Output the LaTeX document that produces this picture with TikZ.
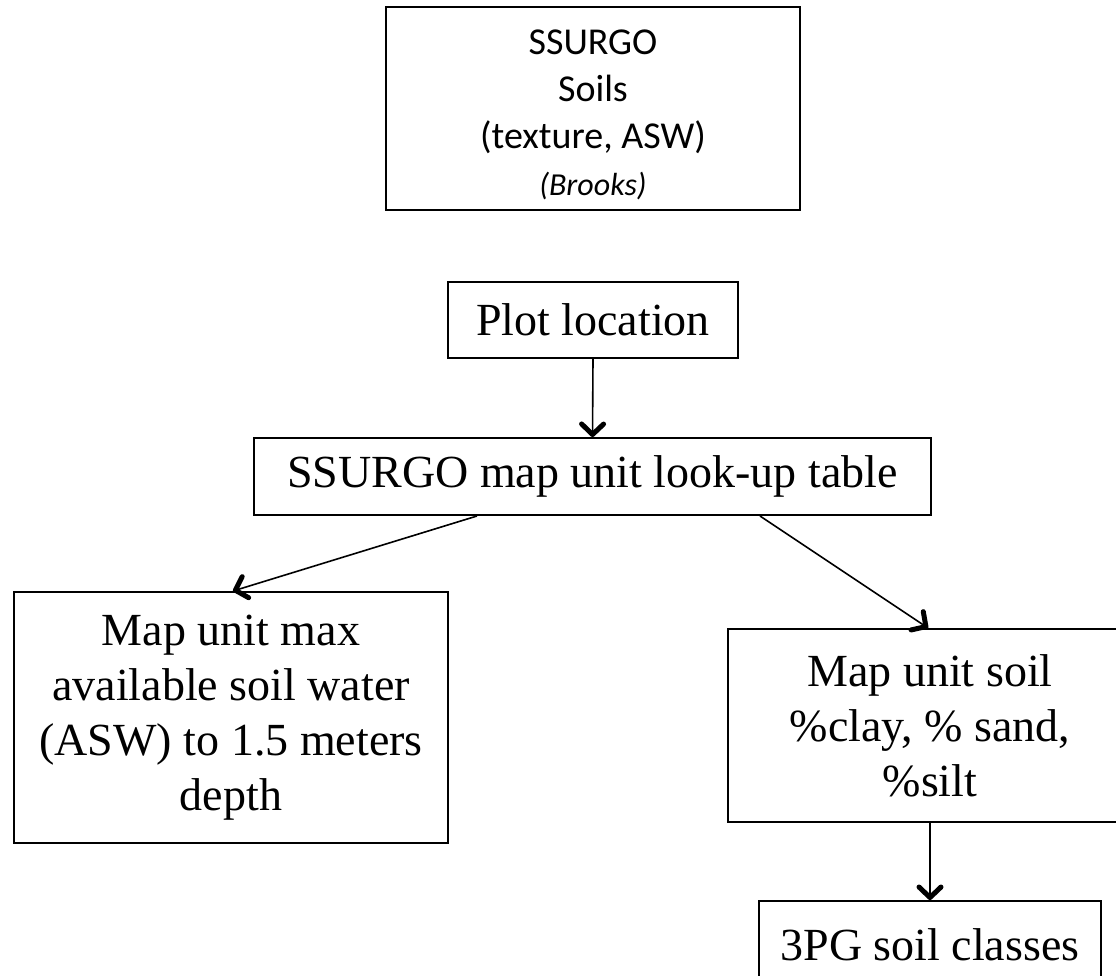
\documentclass[tikz,border=0pt]{standalone}
\usepackage{fontspec}
\setmainfont{Liberation Serif}
\newfontfamily\calibrifont{Carlito}
\usetikzlibrary{calc}

\tikzset{
  box/.style={draw=black, line width=2pt, fill=white, inner sep=0pt,
    align=center, anchor=center, text=black,
    font=\fontsize{46}{55}\selectfont},
  boxtext/.style={inner sep=0pt, align=center, anchor=center, text=black,
    font=\calibrifont\fontsize{38}{47}\selectfont},
  flow/.style={line width=1.6pt, draw=black},
  barb/.style={line width=5pt, draw=black, line cap=round, line join=round},
}

% connector from #1 to #2 with a bold open V head at #2
\newcommand\flowarrow[2]{%
  \draw[flow] (#1) -- (#2);
  \draw[barb] ($(#2)!13pt!(#1)!11pt!90:(#1)$) -- ($(#2)!2.5pt!(#1)$)
              -- ($(#2)!13pt!(#1)!11pt!-90:(#1)$);
}

\begin{document}
\begin{tikzpicture}[x=1pt, y=-1pt]
  \useasboundingbox (0,0) rectangle (1116,975);
  \clip (0,0) rectangle (1116,975);
  \fill[white] (0,0) rectangle (1116,975);

  % source data box, with its text set a little below the centre
  \node[box, minimum width=414pt, minimum height=203pt] (src) at (593,108.5) {};
  \node[boxtext] (srclabel) at ([yshift=-6pt]src.center)
    {SSURGO\\Soils\\(texture, ASW)\\{\fontsize{32}{40}\selectfont\itshape (Brooks)}};

  % processing chain
  \node[box, minimum width=290pt, minimum height=76pt] (plot) at (593,320)
    {Plot location};
  \node[box, minimum width=677pt, minimum height=77pt] (lookup) at (592.5,476.5)
    {SSURGO map unit look-up table};
  \node[box, minimum width=434pt, minimum height=251pt] (asw) at (231,717.5)
    {Map unit max\\available soil water\\(ASW) to 1.5 meters\\depth};
  \node[box, minimum width=404pt, minimum height=193pt] (tex) at (930,725.5)
    {Map unit soil\\\%clay, \% sand,\\\%silt};
  \node[box, minimum width=342pt, minimum height=87pt] (pg) at (930,944.5)
    {3PG soil classes};

  % connector end points
  \coordinate (lookupL) at ([xshift=-115.5pt]lookup.south);
  \coordinate (lookupR) at ([xshift=167.5pt]lookup.south);
  \coordinate (aswTop) at ([xshift=2pt]asw.north);
  \coordinate (texTop) at ([xshift=-2pt]tex.north);

  % connectors
  \flowarrow{plot.south}{lookup.north}
  \flowarrow{lookupL}{aswTop}
  \flowarrow{lookupR}{texTop}
  \flowarrow{tex.south}{pg.north}
\end{tikzpicture}
\end{document}
